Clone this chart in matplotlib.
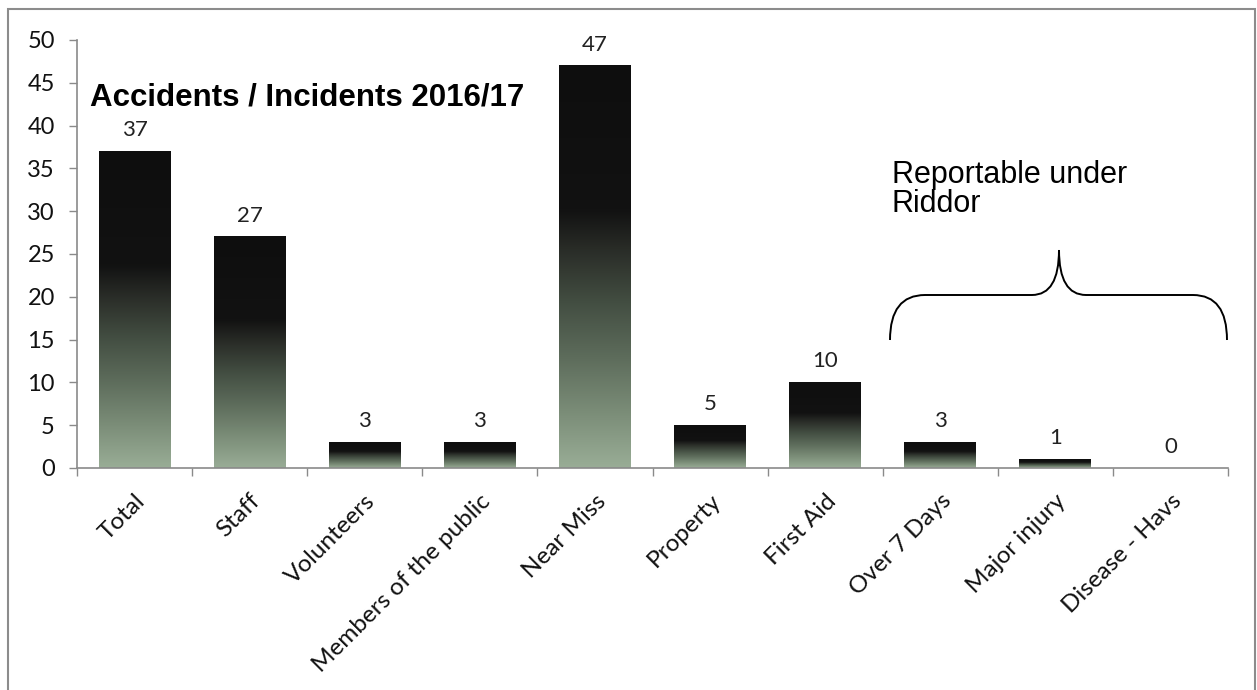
import matplotlib
matplotlib.use("Agg")
import matplotlib.pyplot as plt
import numpy as np
from matplotlib.colors import LinearSegmentedColormap
from matplotlib.patches import Rectangle, PathPatch
from matplotlib.path import Path

categories = ["Total", "Staff", "Volunteers", "Members of the public", "Near Miss",
              "Property", "First Aid", "Over 7 Days", "Major injury", "Disease - Havs"]
values = [37, 27, 3, 3, 47, 5, 10, 3, 1, 0]
yticks = [0, 5, 10, 15, 20, 25, 30, 35, 40, 45, 50]
title = "Accidents / Incidents 2016/17"
note = "Reportable under\nRiddor"

W, H, DPI = 1257, 690, 100
fig = plt.figure(figsize=(W / DPI, H / DPI), dpi=DPI)
ax = fig.add_axes([77 / W, 1 - 468 / H, (1228 - 77) / W, (468 - 40) / H])

cmap = LinearSegmentedColormap.from_list("bar", [
    (0.0, "#99ad96"), (0.14, "#7a8c77"), (0.27, "#5e6d5c"), (0.41, "#434e42"),
    (0.54, "#2a2d28"), (0.64, "#121212"), (1.0, "#0e0e0e")])

x = np.arange(len(categories))
bars = ax.bar(x, values, width=0.625, facecolor="none", edgecolor="none", zorder=3)
grad = np.linspace(0, 1, 256).reshape(-1, 1)
for b in bars:
    h = b.get_height()
    if h <= 0:
        continue
    x0 = b.get_x()
    ax.imshow(grad, extent=[x0, x0 + b.get_width(), 0, h], origin="lower",
              cmap=cmap, aspect="auto", zorder=2, interpolation="bilinear")

for xi, v in zip(x, values):
    ax.annotate(str(v), (xi, v), xytext=(0, 8), textcoords="offset points",
                ha="center", va="bottom", fontsize=16, family="Lato", color="#222222")

ax.set_xlim(-0.5, len(categories) - 0.5)
ax.set_ylim(0, 50)
ax.set_yticks(yticks)
ax.tick_params(axis="y", length=6, width=1, color="#8a8a8a", pad=10,
               labelsize=17, labelcolor="#111111")
for lab in ax.get_yticklabels():
    lab.set_family("Lato")

ax.set_xticks(np.arange(len(categories) + 1) - 0.5)
ax.set_xticklabels([])
ax.tick_params(axis="x", which="major", length=6, width=1, color="#8a8a8a")
ax.set_xticks(x, minor=True)
ax.set_xticklabels(categories, minor=True, rotation=45, ha="right",
                   rotation_mode="anchor", fontsize=17.5, family="Lato", color="#111111")
ax.tick_params(axis="x", which="minor", length=0, pad=16)

for s in ["top", "right"]:
    ax.spines[s].set_visible(False)
for s in ["left", "bottom"]:
    ax.spines[s].set_color("#8a8a8a")
    ax.spines[s].set_linewidth(1.2)

fig.text(90 / W, 1 - 97 / H, title, ha="left", va="center", fontsize=22.5,
         fontweight="bold", family="Liberation Sans", color="#000000")
fig.text(892 / W, 1 - 160 / H, note, ha="left", va="top", fontsize=22,
         family="Liberation Sans", color="#000000", linespacing=0.95)

# brace annotation in figure pixel coordinates
def px(xp, yp):
    return (xp / W, 1 - yp / H)

verts = [px(890, 340), px(890, 295), px(925, 295),
         px(1032, 295), px(1059, 295), px(1059, 250),
         px(1059, 295), px(1086, 295),
         px(1193, 295), px(1227, 295), px(1227, 340)]
codes = [Path.MOVETO, Path.CURVE3, Path.CURVE3,
         Path.LINETO, Path.CURVE3, Path.CURVE3,
         Path.CURVE3, Path.CURVE3,
         Path.LINETO, Path.CURVE3, Path.CURVE3]
fig.patches.append(PathPatch(Path(verts, codes), transform=fig.transFigure,
                             facecolor="none", edgecolor="black", linewidth=1.4))

fig.patches.append(Rectangle((8 / W, -0.05), (1255 - 8) / W, 1.05 - 9 / H,
                             transform=fig.transFigure, facecolor="none",
                             edgecolor="#8c8c8c", linewidth=1.5))

fig.savefig("out.png", dpi=DPI)
